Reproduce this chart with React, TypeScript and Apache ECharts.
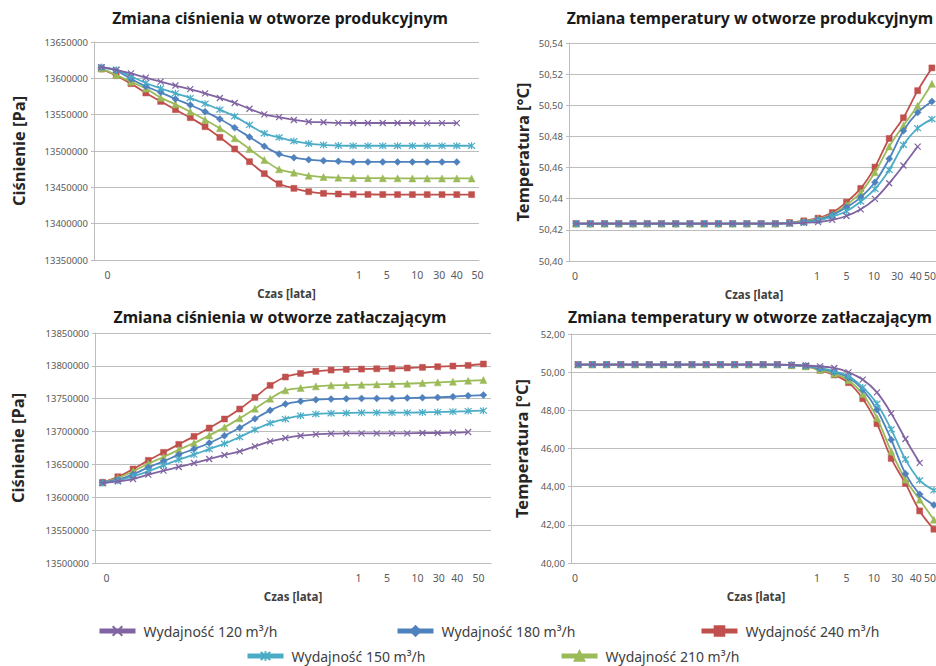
import React, { useEffect, useRef } from "react";
import * as echarts from "echarts";

// ---------- data ----------
const xTickLabels = ["0", "", "", "", "", "", "", "", "", "", "", "", "", "", "", "", "", "1", "", "5", "", "10", "30", "", "40", "50"];

const seriesNames = ["Wydajność 120 m³/h", "Wydajność 150 m³/h", "Wydajność 180 m³/h", "Wydajność 210 m³/h", "Wydajność 240 m³/h"];
const seriesColors = ["#8064A2", "#4BACC6", "#4F81BD", "#9BBB59", "#C0504D"];

const chartTitles = [
  "Zmiana ciśnienia w otworze produkcyjnym",
  "Zmiana temperatury w otworze produkcyjnym",
  "Zmiana ciśnienia w otworze zatłaczającym",
  "Zmiana temperatury w otworze zatłaczającym",
];
const yAxisNames = ["Ciśnienie [Pa]", "Temperatura [°C]", "Ciśnienie [Pa]", "Temperatura [°C]"];
const xAxisName = "Czas [lata]";

// Ciśnienie – otwór produkcyjny [Pa]
const pressProd120 = [13615500, 13611700, 13606800, 13600900, 13595400, 13590100, 13585100, 13579200, 13573000, 13566100, 13558100, 13550500, 13546600, 13542700, 13540200, 13539500, 13538600, 13538500, 13538500, 13538500, 13538500, 13538500, 13538400, 13538400, 13538400, null];
const pressProd150 = [13615100, 13611900, 13602800, 13593600, 13586200, 13579400, 13572900, 13565100, 13556900, 13547700, 13535800, 13524200, 13518700, 13513600, 13510200, 13508300, 13507500, 13507200, 13507200, 13507200, 13507200, 13507200, 13507200, 13507200, 13507200, 13507200];
const pressProd180 = [13615100, 13610600, 13599100, 13589000, 13580700, 13571600, 13563300, 13554100, 13544000, 13532100, 13519300, 13506400, 13495900, 13490800, 13488100, 13486700, 13485800, 13484900, 13484900, 13484900, 13484900, 13484900, 13484900, 13484900, 13484900, null];
const pressProd210 = [13613800, 13604600, 13595400, 13585900, 13573400, 13564200, 13554100, 13543100, 13531200, 13517400, 13502700, 13487600, 13474800, 13470200, 13466000, 13464200, 13463300, 13462800, 13462600, 13462500, 13462400, 13462300, 13462200, 13462200, 13462200, 13462200];
const pressProd240 = [13612800, 13603700, 13592700, 13579800, 13568300, 13556900, 13545900, 13533500, 13518800, 13502800, 13485300, 13468800, 13455000, 13448600, 13444000, 13441700, 13440800, 13440400, 13440200, 13440100, 13440000, 13440000, 13440000, 13440000, 13440000, 13440000];

// Temperatura – otwór produkcyjny [°C]
const tempProd120 = [50.424, 50.424, 50.424, 50.424, 50.424, 50.424, 50.424, 50.424, 50.424, 50.424, 50.424, 50.424, 50.424, 50.424, 50.424, 50.424, 50.4245, 50.425, 50.4264, 50.4289, 50.4332, 50.4399, 50.4499, 50.4613, 50.4735, null];
const tempProd150 = [50.424, 50.424, 50.424, 50.424, 50.424, 50.424, 50.424, 50.424, 50.424, 50.424, 50.424, 50.424, 50.424, 50.424, 50.424, 50.4242, 50.4248, 50.426, 50.4285, 50.432, 50.4382, 50.4463, 50.4585, 50.4746, 50.4853, 50.4911];
const tempProd180 = [50.424, 50.424, 50.424, 50.424, 50.424, 50.424, 50.424, 50.424, 50.424, 50.424, 50.424, 50.424, 50.424, 50.424, 50.424, 50.4243, 50.425, 50.4265, 50.4295, 50.4345, 50.4409, 50.4506, 50.4656, 50.4836, 50.4954, 50.5025];
const tempProd210 = [50.424, 50.424, 50.424, 50.424, 50.424, 50.424, 50.424, 50.424, 50.424, 50.424, 50.424, 50.424, 50.424, 50.424, 50.424, 50.4245, 50.4255, 50.427, 50.430, 50.436, 50.444, 50.457, 50.4735, 50.487, 50.4997, 50.5138];
const tempProd240 = [50.424, 50.424, 50.424, 50.424, 50.424, 50.424, 50.424, 50.424, 50.424, 50.424, 50.424, 50.424, 50.424, 50.424, 50.424, 50.4247, 50.4258, 50.4275, 50.4311, 50.4378, 50.4466, 50.4603, 50.4787, 50.492, 50.5094, 50.524];

// Ciśnienie – otwór zatłaczający [Pa]
const pressInj120 = [13621700, 13624200, 13627800, 13634400, 13640500, 13646100, 13652100, 13658200, 13664300, 13669900, 13677500, 13685100, 13690200, 13693700, 13695800, 13696800, 13697300, 13697300, 13697300, 13697300, 13697300, 13697800, 13697800, 13698300, 13699300, null];
const pressInj150 = [13621700, 13625300, 13631900, 13639500, 13648600, 13657200, 13664800, 13673400, 13681600, 13691700, 13702900, 13713000, 13719100, 13724200, 13726700, 13727700, 13728200, 13728700, 13728700, 13728700, 13728700, 13729200, 13729700, 13730200, 13731200, 13731800];
const pressInj180 = [13622700, 13626700, 13634900, 13645500, 13654700, 13664800, 13673400, 13682600, 13693700, 13705900, 13719600, 13732300, 13741900, 13746000, 13748500, 13749500, 13750000, 13750500, 13750500, 13750500, 13751000, 13751500, 13752000, 13753000, 13754600, 13755600];
const pressInj210 = [13622700, 13629300, 13639500, 13651100, 13661300, 13672400, 13682600, 13694200, 13706400, 13720100, 13734800, 13750000, 13762700, 13766200, 13768800, 13770300, 13770800, 13771300, 13771800, 13772300, 13772800, 13773800, 13774900, 13775900, 13777400, 13778400];
const pressInj240 = [13622700, 13631300, 13643000, 13656200, 13668400, 13680500, 13692700, 13705400, 13719100, 13734300, 13752000, 13770300, 13783000, 13788500, 13791600, 13793600, 13794600, 13795100, 13795600, 13796100, 13796700, 13797700, 13798700, 13799700, 13800700, 13802800];

// Temperatura – otwór zatłaczający [°C]
const tempInj120 = [50.4, 50.4, 50.4, 50.4, 50.4, 50.4, 50.4, 50.4, 50.4, 50.4, 50.4, 50.4, 50.4, 50.4, 50.4, 50.38, 50.35, 50.3, 50.22, 49.99, 49.61, 48.94, 47.84, 46.5, 45.25, null];
const tempInj150 = [50.4, 50.4, 50.4, 50.4, 50.4, 50.4, 50.4, 50.4, 50.4, 50.4, 50.4, 50.4, 50.4, 50.4, 50.4, 50.37, 50.33, 50.22, 50.05, 49.78, 49.2, 48.35, 47.0, 45.43, 44.33, 43.81];
const tempInj180 = [50.4, 50.4, 50.4, 50.4, 50.4, 50.4, 50.4, 50.4, 50.4, 50.4, 50.4, 50.4, 50.4, 50.4, 50.4, 50.37, 50.32, 50.18, 50.0, 49.72, 49.08, 48.03, 46.46, 44.68, 43.6, 43.04];
const tempInj210 = [50.4, 50.4, 50.4, 50.4, 50.4, 50.4, 50.4, 50.4, 50.4, 50.4, 50.4, 50.4, 50.4, 50.4, 50.4, 50.36, 50.3, 50.12, 49.92, 49.58, 48.85, 47.6, 45.85, 44.37, 43.32, 42.27];
const tempInj240 = [50.4, 50.4, 50.4, 50.4, 50.4, 50.4, 50.4, 50.4, 50.4, 50.4, 50.4, 50.4, 50.4, 50.4, 50.4, 50.36, 50.3, 50.1, 49.85, 49.45, 48.61, 47.3, 45.48, 44.17, 42.73, 41.77];

const chartSeries = [
  [pressProd120, pressProd150, pressProd180, pressProd210, pressProd240],
  [tempProd120, tempProd150, tempProd180, tempProd210, tempProd240],
  [pressInj120, pressInj150, pressInj180, pressInj210, pressInj240],
  [tempInj120, tempInj150, tempInj180, tempInj210, tempInj240],
];

const yRanges = [
  { min: 13350000, max: 13650000, interval: 50000, decimals: 0 },
  { min: 50.4, max: 50.54, interval: 0.02, decimals: 2 },
  { min: 13500000, max: 13850000, interval: 50000, decimals: 0 },
  { min: 40, max: 52, interval: 2, decimals: 2 },
];

// ---------- style / layout ----------
const FONT = '"Noto Sans", "Open Sans", sans-serif';
const GRID_COLOR = "#BDBDBD";
const LABEL_COLOR = "#595959";

const SYM_X = "path://M0,0L10,10M10,0L0,10";
const SYM_STAR = "path://M0,0L10,10M10,0L0,10M5,-1L5,11";
const seriesSymbols = [SYM_X, SYM_STAR, "diamond", "triangle", "rect"];
const symbolSizes = [6, 7, 7, 7, 6];

const grids = [
  { left: 94, top: 42, width: 385, height: 218, outerBoundsMode: "none" },
  { left: 569, top: 43, width: 370, height: 218, outerBoundsMode: "none" },
  { left: 95, top: 333, width: 396, height: 230, outerBoundsMode: "none" },
  { left: 571, top: 334, width: 370, height: 229, outerBoundsMode: "none" },
];
const titlePos = [
  { x: 280, y: 18 },
  { x: 750, y: 18 },
  { x: 280, y: 317 },
  { x: 750, y: 317 },
];
const yNameGaps = [67, 38, 69, 41];
// horizontal nudge (px) of each shown tick label, in order of the labelled categories
const xLabelNudge = [
  [6, 6, 4, 5, 12, 0, 6],
  [-1, -1, 0, -1, 8, -2, -2],
  [4, -3, -5, -5, 1, -11, -5],
  [-3, -3, -2, -3, 6, -4, -4],
];

const legendPos = [
  { left: 92, top: 619 },
  { left: 240, top: 644 },
  { left: 390, top: 619 },
  { left: 554, top: 644 },
  { left: 694, top: 619 },
];

export default function App() {
  const ref = useRef<HTMLDivElement>(null);

  useEffect(() => {
    if (!ref.current) return;
    const chart = echarts.init(ref.current, null, { renderer: "svg" });

    const labelled = xTickLabels.map((t, i) => (t ? i : -1)).filter((i) => i >= 0);

    const xAxes = grids.map((_, gi) => {
      const rich: Record<string, any> = {};
      labelled.forEach((idx, k) => {
        const n = xLabelNudge[gi][k] || 0;
        rich["n" + idx] = {
          fontSize: 10.5,
          color: LABEL_COLOR,
          fontFamily: FONT,
          padding: n >= 0 ? [0, 0, 0, 2 * n] : [0, -2 * n, 0, 0],
        };
      });
      return {
        type: "category",
        gridIndex: gi,
        data: xTickLabels.map((_, i) => String(i)),
        boundaryGap: true,
        axisTick: { show: false },
        axisLine: { show: true, lineStyle: { color: GRID_COLOR, width: 1 } },
        axisLabel: {
          interval: 0,
          formatter: (_v: string, i: number) => (xTickLabels[i] ? `{n${i}|${xTickLabels[i]}}` : ""),
          rich,
          fontSize: 10.5,
          color: LABEL_COLOR,
          fontFamily: FONT,
          margin: 9,
        },
        name: xAxisName,
        nameLocation: "middle",
        nameGap: 27,
        nameTextStyle: { fontSize: 11.5, fontWeight: "bold", color: "#404040", fontFamily: FONT },
      };
    });

    const yAxes = grids.map((_, gi) => ({
      type: "value",
      gridIndex: gi,
      min: yRanges[gi].min,
      max: yRanges[gi].max,
      interval: yRanges[gi].interval,
      axisLine: { show: true, lineStyle: { color: GRID_COLOR, width: 1 } },
      axisTick: { show: true, length: 3, lineStyle: { color: GRID_COLOR } },
      splitLine: { show: true, lineStyle: { color: GRID_COLOR, width: 1 } },
      axisLabel: {
        fontSize: 9.5,
        color: LABEL_COLOR,
        fontFamily: FONT,
        margin: 6,
        formatter: (v: number) =>
          yRanges[gi].decimals ? v.toFixed(yRanges[gi].decimals).replace(".", ",") : String(Math.round(v)),
      },
      name: yAxisNames[gi],
      nameLocation: "middle",
      nameGap: yNameGaps[gi],
      nameTextStyle: { fontSize: 16.5, fontWeight: "bold", color: "#262626", fontFamily: FONT },
    }));

    const drawOrder = [4, 3, 2, 1, 0];
    const series: any[] = [];
    chartSeries.forEach((group, gi) => {
      drawOrder.forEach((si) => {
        series.push({
          type: "line",
          name: seriesNames[si],
          xAxisIndex: gi,
          yAxisIndex: gi,
          data: group[si],
          smooth: 0.35,
          symbol: seriesSymbols[si],
          symbolSize: symbolSizes[si],
          showAllSymbol: true,
          lineStyle: { color: seriesColors[si], width: 1.8 },
          itemStyle: { color: seriesColors[si], borderColor: seriesColors[si], borderWidth: si < 2 ? 1.2 : 0.5 },
          emphasis: { disabled: true },
          z: 2 + (4 - si),
        });
      });
    });

    const legends = seriesNames.map((name, si) => ({
      data: [name],
      left: legendPos[si].left,
      top: legendPos[si].top,
      itemWidth: 36,
      itemHeight: 12,
      selectedMode: false,
      lineStyle: { width: 5 },
      textStyle: { fontSize: 14, color: "#404040", fontFamily: FONT, padding: [0, 0, 0, 3] },
    }));

    const titles = chartTitles.map((t, i) => ({
      type: "text",
      x: titlePos[i].x,
      y: titlePos[i].y,
      style: {
        text: t,
        textAlign: "center",
        textVerticalAlign: "middle",
        fill: "#1a1a1a",
        font: `bold 15.8px ${FONT}`,
      },
    }));

    chart.setOption({
      animation: false,
      backgroundColor: "#ffffff",
      grid: grids,
      xAxis: xAxes,
      yAxis: yAxes,
      legend: legends,
      series,
      graphic: titles,
    });

    return () => chart.dispose();
  }, []);

  return (
    <div
      ref={ref}
      style={{ position: "fixed", left: 0, top: 0, width: 936, height: 666, background: "#ffffff" }}
    />
  );
}
